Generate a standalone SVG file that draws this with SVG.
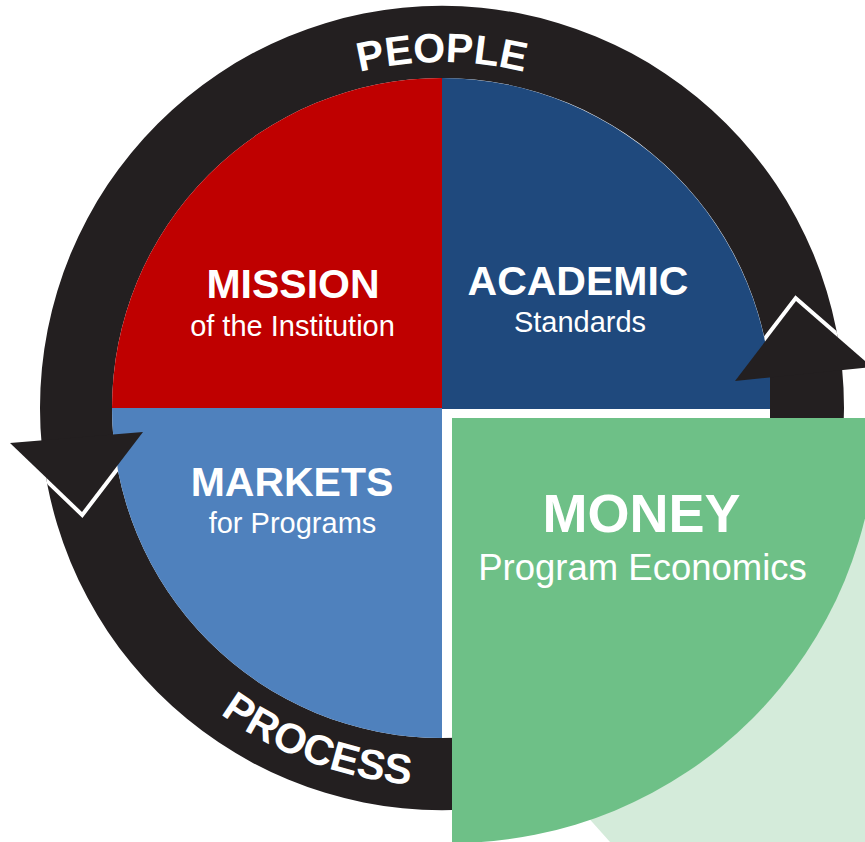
<svg xmlns="http://www.w3.org/2000/svg" width="865" height="842" viewBox="0 0 865 842">
  <style>
    .t { fill: #ffffff; font-family: "Liberation Sans", Arial, Helvetica, sans-serif; text-anchor: middle; }
    .b { font-weight: bold; }
    .ringlbl { font-weight: bold; }
    .main { font-size: 41px; font-weight: bold; }
    .sub { font-size: 29px; }
    .head { fill: #231f20; }
    .edge { fill: none; stroke: #ffffff; stroke-width: 8; stroke-linejoin: miter; }
  </style>
  <defs>
    <clipPath id="ringClip">
      <path clip-rule="evenodd" d="M40,408 A402,402 0 1 1 844,408 A402,402 0 1 1 40,408 Z M112,408 A330,330 0 1 0 772,408 A330,330 0 1 0 112,408 Z"/>
    </clipPath>
    <path id="peoplePath" d="M96,408 A346,346 0 0 1 788,408"/>
    <path id="processPath" d="M64,408 A378,378 0 0 0 820,408"/>
  </defs>
  <rect width="865" height="842" fill="#ffffff"/>

  <g id="cycle-ring">
    <path fill="#231f20" fill-rule="evenodd" d="M40,408 A402,402 0 1 1 844,408 A402,402 0 1 1 40,408 Z M112,408 A330,330 0 1 0 772,408 A330,330 0 1 0 112,408 Z"/>
    <text class="t ringlbl" font-size="41"><textPath href="#peoplePath" startOffset="50%">PEOPLE</textPath></text>
    <text class="t ringlbl" font-size="42"><textPath href="#processPath" startOffset="459">PROCESS</textPath></text>
  </g>

  <g id="mission">
    <path fill="#bf0000" d="M442,408 V78 A330,330 0 0 0 112,408 Z"/>
    <text class="t main" x="293" y="298">MISSION</text>
    <text class="t sub" x="292.5" y="336">of the Institution</text>
  </g>

  <g id="academic">
    <path fill="#1f497d" d="M442,409 V78 A331,331 0 0 1 772,409 Z"/>
    <text class="t main" x="578" y="295">ACADEMIC</text>
    <text class="t sub" x="580" y="332">Standards</text>
  </g>

  <g id="markets">
    <path fill="#4f81bd" d="M442,408 H112 A330,330 0 0 0 442,738 Z"/>
    <text class="t main" x="292" y="496">MARKETS</text>
    <text class="t sub" x="292.5" y="533">for Programs</text>
  </g>

  <g id="connectors">
    <g id="arrow-up-right">
      <rect class="head" x="770" y="372" width="71" height="46"/>
      <polyline class="edge" clip-path="url(#ringClip)" points="735,381 796,301 872,367"/>
      <polygon class="head" points="796,301 872,367 735,381"/>
    </g>
    <g id="arrow-down-left">
      <polyline class="edge" clip-path="url(#ringClip)" points="10,443 82,512 143,432"/>
      <polygon class="head" points="82,512 10,443 143,432"/>
    </g>
  </g>

  <g id="money">
    <polygon fill="#d4ebda" points="610,842 560,786 700,600 860,480 865,480 865,842"/>
    <path fill="#6ec087" d="M452,418 H877 A425,425 0 0 1 452,843 Z"/>
    <text class="t b" x="641.5" y="532" font-size="54">MONEY</text>
    <text class="t" x="642.5" y="580" font-size="36.5">Program Economics</text>
  </g>
</svg>
